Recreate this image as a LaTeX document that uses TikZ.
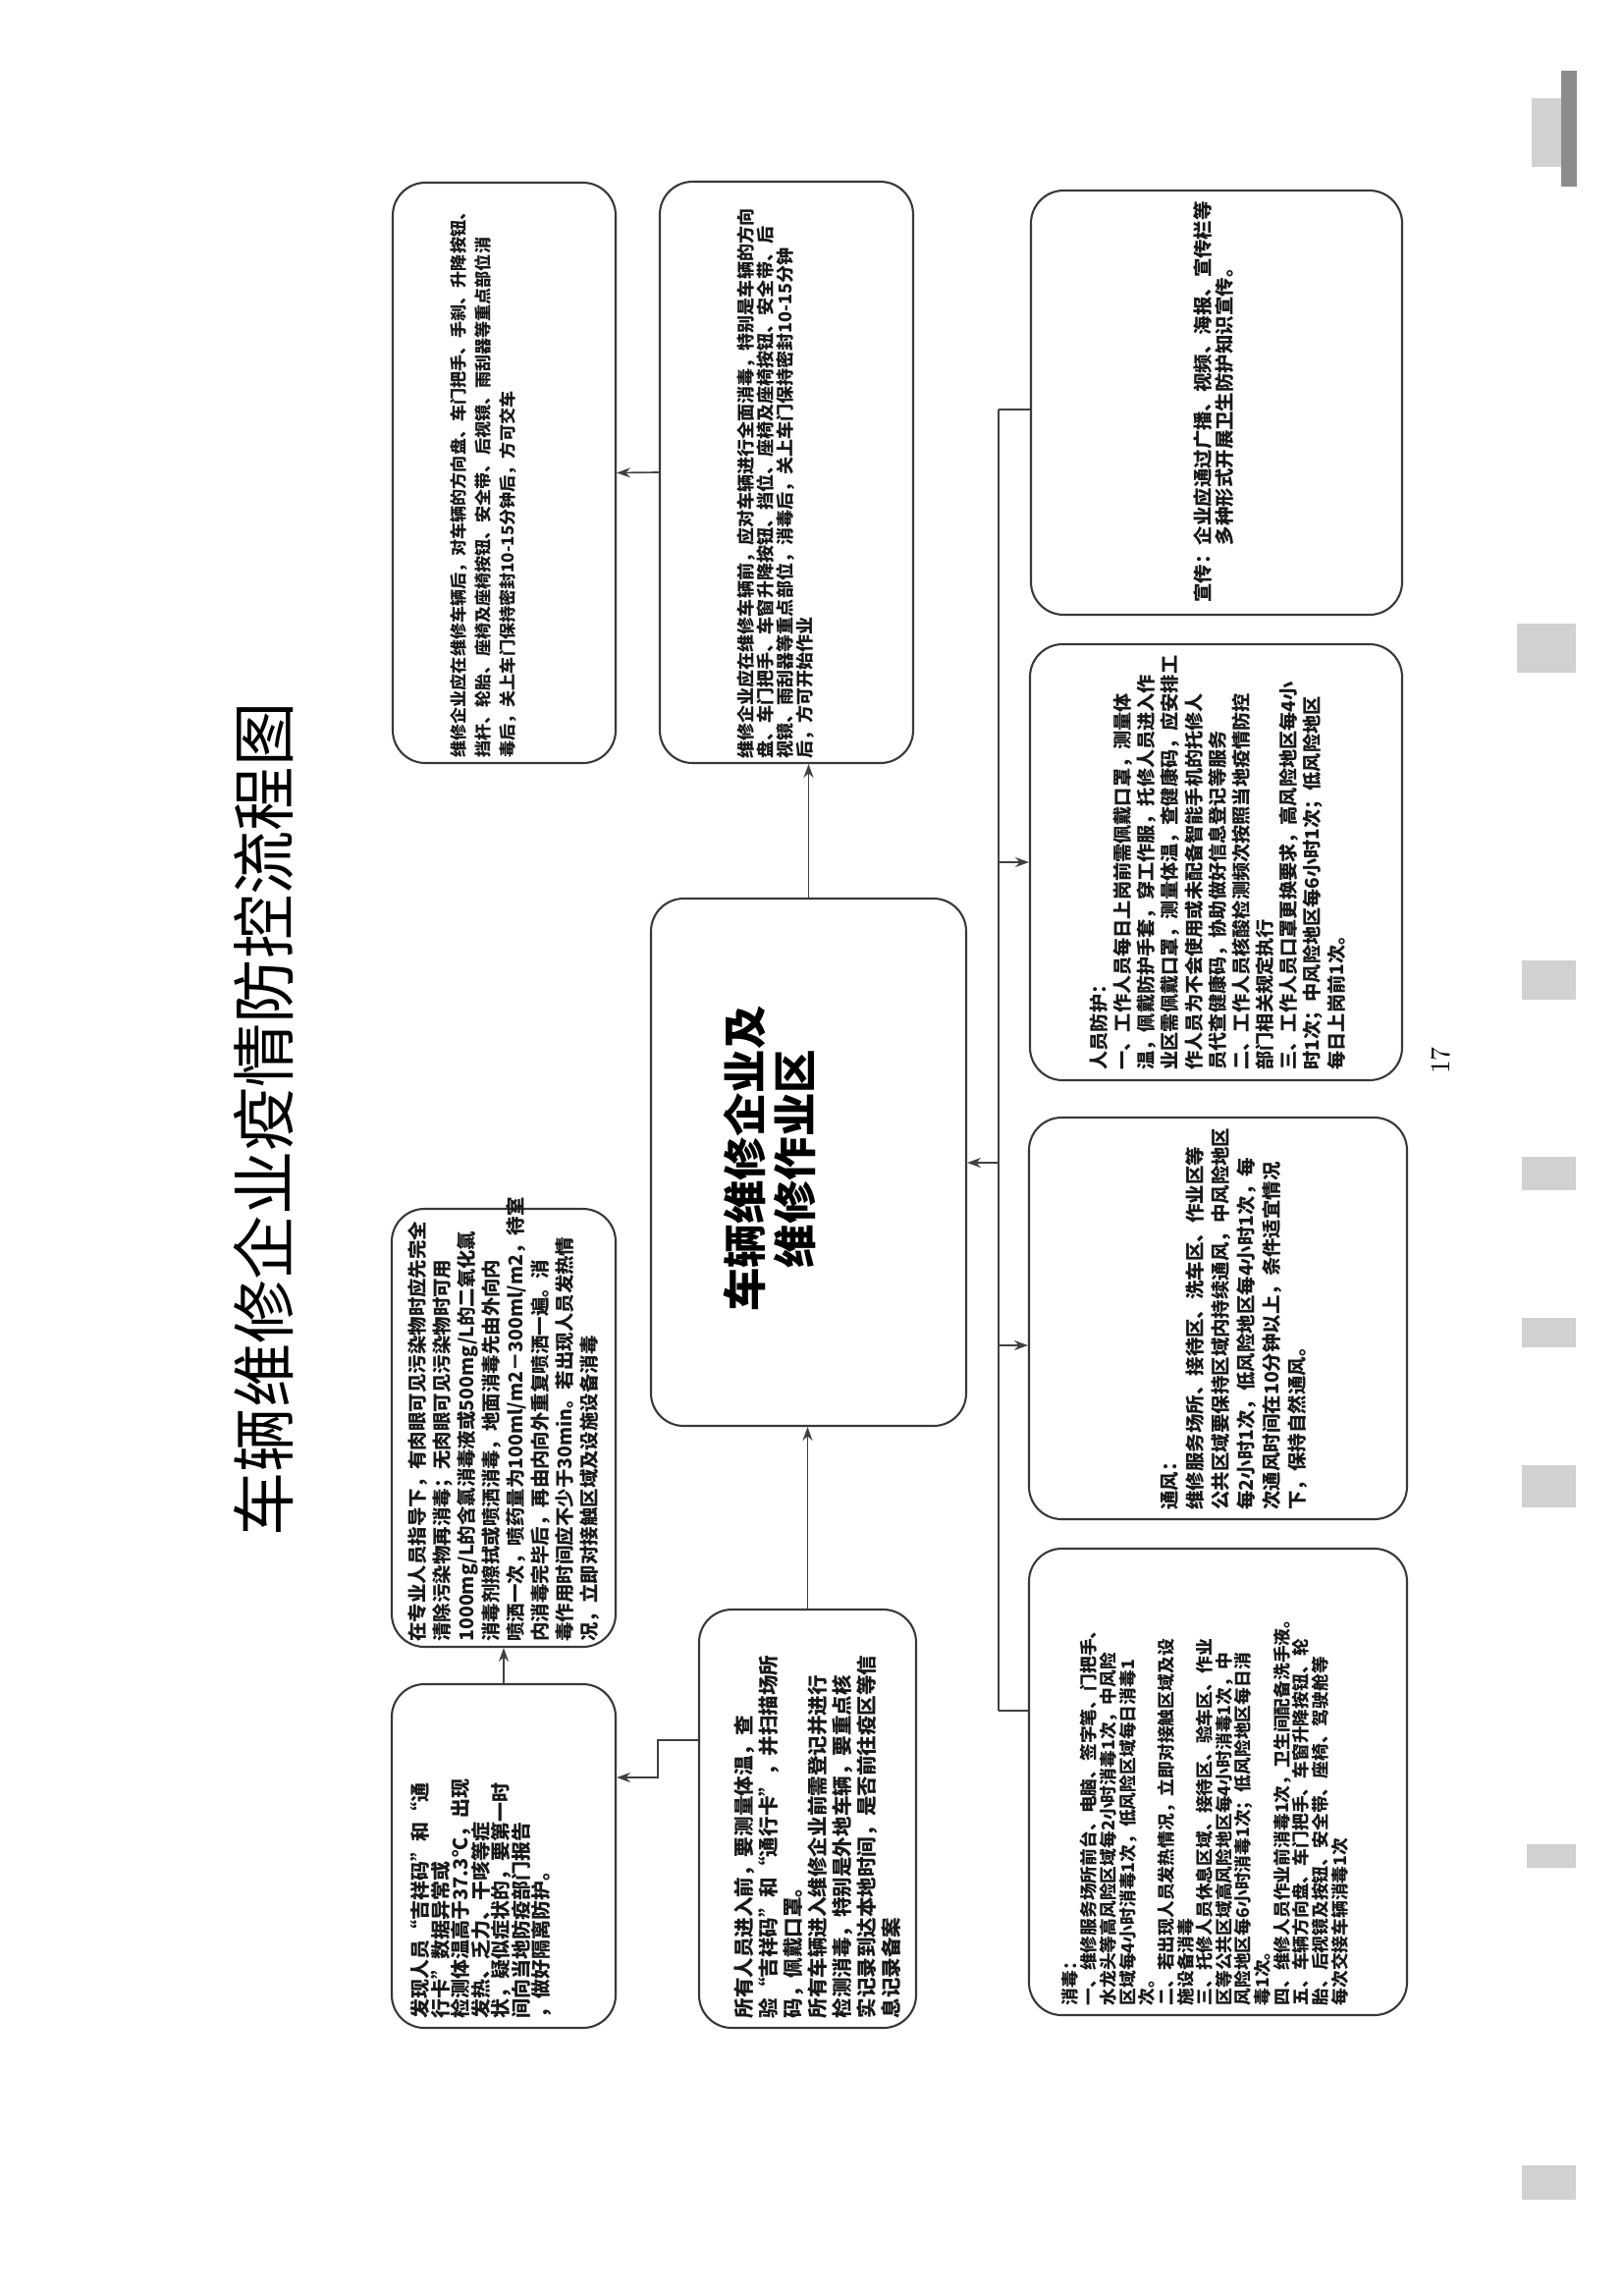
\documentclass[tikz,border=0pt]{standalone}
\usepackage{fontspec}
\newfontfamily\cjk{Noto Sans CJK SC}
\usetikzlibrary{fit,arrows.meta}
\tikzset{
  box/.style={draw=black!78, line width=0.75pt, rounded corners=12pt, inner sep=0pt},
  txt/.style={rotate=90, anchor=west, align=left, inner sep=0pt, text=black!90},
  conn/.style={draw=black!75, line width=0.6pt},
  arr/.style={conn, -{Stealth[length=5pt,width=3.6pt]}},
  scanmark/.style={fill=black!18, draw=none},
}
\newcommand{\fsz}[2]{\cjk\fontsize{#1pt}{#2pt}\selectfont}
\begin{document}
\begin{tikzpicture}[x=0.36pt,y=-0.36pt]
\useasboundingbox (0,0) rectangle (1653,2336);
\fill[white] (0,0) rectangle (1653,2336);

% title
\node[rotate=90, inner sep=0pt, font=\fsz{23.5}{28}] (title) at (268,1140) {车辆维修企业疫情防控流程图};

% boxes
\node[box, fit={(400,186) (627,777)}] (tl) {};
\node[box, fit={(672,185) (930,777)}] (tm) {};
\node[box, fit={(1050,194) (1428,626)}] (rt) {};
\node[box, fit={(1049,656) (1428,1100)}] (r2) {};
\node[box, fit={(1048,1138) (1433,1547)}] (r3) {};
\node[box, fit={(1048,1577) (1433,2052)}] (r4) {};
\node[box, fit={(663,915) (984,1452)}] (n) {};
\node[box, fit={(399,1231) (627,1677)}] (lm) {};
\node[box, fit={(399,1715) (627,2065)}] (lb) {};
\node[box, fit={(712,1639) (933,2065)}] (bm) {};

% centre text
\node[rotate=90, align=center, inner sep=0pt, font=\fsz{16}{18.5}\bfseries] (ntext) at (784,1180) {车辆维修企业及\\维修作业区};

% box texts
\node[txt, font=\fsz{6.15}{9}\bfseries] (tltext) at (492,772) {维修企业应在维修车辆后，对车辆的方向盘、车门把手、手刹、升降按钮、\\挡杆、轮胎、座椅及座椅按钮、安全带、后视镜、雨刮器等重点部位消\\毒后，关上车门保持密封10-15分钟后，方可交车};

\node[txt, font=\fsz{6.5}{7.2}\bfseries] (tmtext) at (790,773) {维修企业应在维修车辆前，应对车辆进行全面消毒，特别是车辆的方向\\盘、车门把手、车窗升降按钮、挡位、座椅及座椅按钮、安全带、后\\视镜、雨刮器等重点部位，消毒后，关上车门保持密封10-15分钟\\后，方可开始作业};

\node[txt, font=\fsz{7}{7.8}\bfseries] (rttext) at (1236,614) {宣传：企业应通过广播、视频、海报、宣传栏等\\\hphantom{宣传：}多种形式开展卫生防护知识宣传。};

\node[txt, font=\fsz{6.9}{8.7}\bfseries] (r2text) at (1240,1090) {人员防护：\\一、工作人员每日上岗前需佩戴口罩，测量体\\温，佩戴防护手套，穿工作服，托修人员进入作\\业区需佩戴口罩，测量体温，查健康码，应安排工\\作人员为不会使用或未配备智能手机的托修人\\员代查健康码，协助做好信息登记等服务\\二、工作人员核酸检测频次按照当地疫情防控\\部门相关规定执行\\三、工作人员口罩更换要求，高风险地区每4小\\时1次；中风险地区每6小时1次；低风险地区\\每日上岗前1次。};

\node[txt, font=\fsz{7}{9.4}\bfseries] (r3text) at (1257,1538) {通风：\\维修服务场所、接待区、洗车区、作业区等\\公共区域要保持区域内持续通风，中风险地区\\每2小时1次，低风险地区每4小时1次，每\\次通风时间在10分钟以上，条件适宜情况\\下，保持自然通风。};

\node[txt, font=\fsz{6.4}{7.07}\bfseries] (r4text) at (1227,2043) {消毒：\\一、维修服务场所前台、电脑、签字笔、门把手、\\水龙头等高风险区域每2小时消毒1次，中风险\\区域每4小时消毒1次，低风险区域每日消毒1\\次。\\二、若出现人员发热情况，立即对接触区域及设\\施设备消毒\\三、托修人员休息区域、接待区、验车区、作业\\区等公共区域高风险地区每4小时消毒1次，中\\风险地区每6小时消毒1次；低风险地区每日消\\毒1次。\\四、维修人员作业前消毒1次，卫生间配备洗手液。\\五、车辆方向盘、车门把手、车窗升降按钮、轮\\胎、后视镜及按钮、安全带、座椅、驾驶舱等\\每次交接车辆消毒1次};

\node[txt, font=\fsz{7}{9}\bfseries] (lmtext) at (513,1672) {在专业人员指导下，有肉眼可见污染物时应先完全\\清除污染物再消毒；无肉眼可见污染物时可用\\1000mg/L的含氯消毒液或500mg/L的二氧化氯\\消毒剂擦拭或喷洒消毒，地面消毒先由外向内\\喷洒一次，喷药量为100ml/m2－300ml/m2，待室\\内消毒完毕后，再由内向外重复喷洒一遍。消\\毒作用时间应不少于30min。若出现人员发热情\\况，立即对接触区域及设施设备消毒};

\node[txt, font=\fsz{7.2}{7.4}\bfseries] (lbtext) at (490,2056) {发现人员“吉祥码”和“通\\行卡”数据异常或\\检测体温高于37.3℃，出现\\发热、乏力、干咳等症\\状，疑似症状的，要第一时\\间向当地防疫部门报告\\，做好隔离防护。};

\node[txt, font=\fsz{7.4}{9}\bfseries] (bmtext) at (833,2056) {所有人员进入前，要测量体温，查\\验“吉祥码”和“通行卡”，并扫描场所\\码，佩戴口罩。\\所有车辆进入维修企业前需登记并进行\\检测消毒，特别是外地车辆，要重点核\\实记录到达本地时间，是否前往疫区等信\\息记录备案};

% connectors
\draw[arr] (n.north) -- (n.north |- tm.south);
\draw[arr] (tm.west) -- (tl.east);
\draw[arr] (bm.north) -- (bm.north |- n.south);
\coordinate (k1) at (670,1772);
\coordinate (k2) at (670,1810);
\draw[arr] (bm.west |- k1) -- (k1) -- (k2) -- (lb.east |- k2);
\draw[arr] (lb.north) -- (lm.south);
\coordinate (t1) at (1017,417);
\coordinate (t2) at (1017,878);
\coordinate (t3) at (1017,1184);
\coordinate (t4) at (1017,1370);
\coordinate (t5) at (1017,1742);
\draw[conn] (t1) -- (t5);
\draw[conn] (t1) -- (rt.west |- t1);
\draw[conn] (t5) -- (r4.west |- t5);
\draw[arr] (t2) -- (r2.west |- t2);
\draw[arr] (t3) -- (n.east |- t3);
\draw[arr] (t4) -- (r3.west |- t4);

% page number
\node[rotate=90, inner sep=0pt, font=\fontsize{10}{12}\selectfont] (pg) at (1467,1080) {17};

% scan marks on the right margin
\fill[black!45] (1590,72) rectangle (1606,190);
\fill[scanmark] (1560,100) rectangle (1590,170);
\fill[scanmark] (1545,635) rectangle (1605,685);
\fill[scanmark] (1550,978) rectangle (1605,1018);
\fill[scanmark] (1550,1178) rectangle (1605,1212);
\fill[scanmark] (1550,1342) rectangle (1605,1372);
\fill[scanmark] (1550,1492) rectangle (1605,1535);
\fill[scanmark] (1555,1878) rectangle (1605,1902);
\fill[scanmark] (1550,2205) rectangle (1605,2240);
\end{tikzpicture}
\end{document}
